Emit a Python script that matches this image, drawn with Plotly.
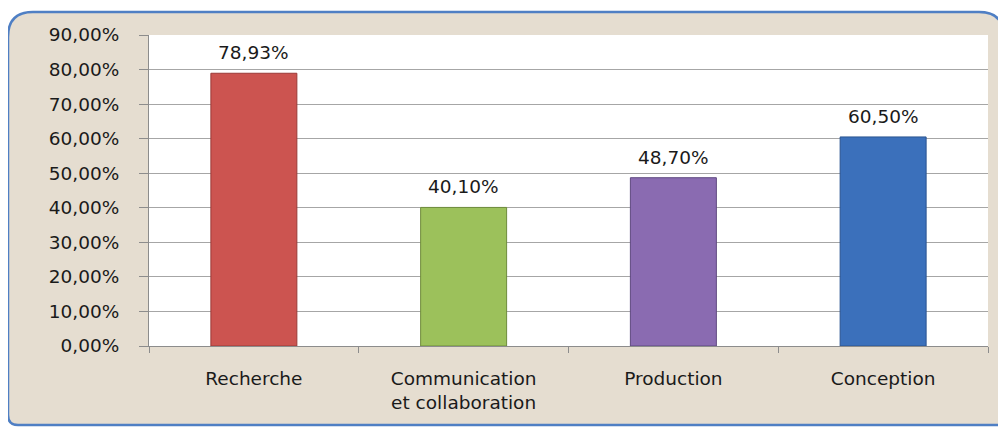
import plotly.graph_objects as go

categories = ["Recherche", "Communication<br>et collaboration", "Production", "Conception"]
values = [78.93, 40.10, 48.70, 60.50]
value_labels = ["78,93%", "40,10%", "48,70%", "60,50%"]
bar_colors = ["#cc5450", "#9cc15b", "#8a6bb1", "#3b70bb"]
bar_edges = ["#9a3a37", "#6f8c3c", "#5f4880", "#2a5490"]
tick_vals = [0, 10, 20, 30, 40, 50, 60, 70, 80, 90]
tick_text = ["0,00%", "10,00%", "20,00%", "30,00%", "40,00%", "50,00%",
             "60,00%", "70,00%", "80,00%", "90,00%"]

OFF = 8  # browser body margin
W, H = 1006 - OFF, 427 - OFF
# plot area in screenshot pixels: x 149..988, y 35..346
L, T = 149 - OFF, 35 - OFF
R = W - (988 - OFF)
B = H - (346 - OFF)
pw, ph = W - L - R, H - T - B

def px(x):
    return (x - OFF - L) / pw

def py(y):
    return (H - B - (y - OFF)) / ph

# rounded frame (screenshot pixel coords -> paper coords)
x0, x1, y0, y1, r = 8, 1004, 12, 425, 25
path = (f"M {px(x0 + r)},{py(y0)} L {px(x1 - r)},{py(y0)} "
        f"Q {px(x1)},{py(y0)} {px(x1)},{py(y0 + r)} "
        f"L {px(x1)},{py(y1 - 6)} Q {px(x1)},{py(y1)} {px(x1 - 6)},{py(y1)} "
        f"L {px(x0 + 10)},{py(y1)} Q {px(x0)},{py(y1)} {px(x0)},{py(y1 - 10)} "
        f"L {px(x0)},{py(y0 + r)} Q {px(x0)},{py(y0)} {px(x0 + r)},{py(y0)} Z")

FONT = dict(family="DejaVu Sans", size=18.5, color="#1a1a1a")

fig = go.Figure()
fig.add_trace(go.Bar(
    x=categories, y=values,
    marker=dict(color=bar_colors, line=dict(color=bar_edges, width=1)),
    width=0.41,
))
for c, v, t in zip(categories, values, value_labels):
    fig.add_annotation(x=c, y=v, text=t, showarrow=False, yanchor="bottom",
                       yshift=8, font=FONT)

fig.update_layout(
    width=W, height=H,
    margin=dict(l=L, r=R, t=T, b=B, pad=0),
    paper_bgcolor="white",
    plot_bgcolor="white",
    showlegend=False,
    font=FONT,
    shapes=[
        dict(type="path", xref="paper", yref="paper", path=path,
             fillcolor="#e5ddd0", line=dict(color="#4f7fc4", width=2.5),
             layer="below"),
        dict(type="rect", xref="paper", yref="paper", x0=0, x1=1, y0=0, y1=1,
             fillcolor="white", line=dict(width=0), layer="below"),
    ],
)
fig.update_yaxes(
    range=[0, 90], tickvals=tick_vals, ticktext=tick_text,
    showgrid=True, gridcolor="#a6a6a6", gridwidth=1,
    showline=True, linecolor="#8c8c8c", linewidth=1,
    ticks="outside", ticklen=9, tickcolor="#8c8c8c",
    ticklabelstandoff=16, zeroline=False, tickfont=FONT,
)
fig.update_xaxes(
    showline=True, linecolor="#8c8c8c", linewidth=1,
    ticks="outside", ticklen=6, tickcolor="#8c8c8c", tickson="boundaries",
    ticklabelstandoff=16, tickfont=FONT,
)

fig.write_html("out.html")
